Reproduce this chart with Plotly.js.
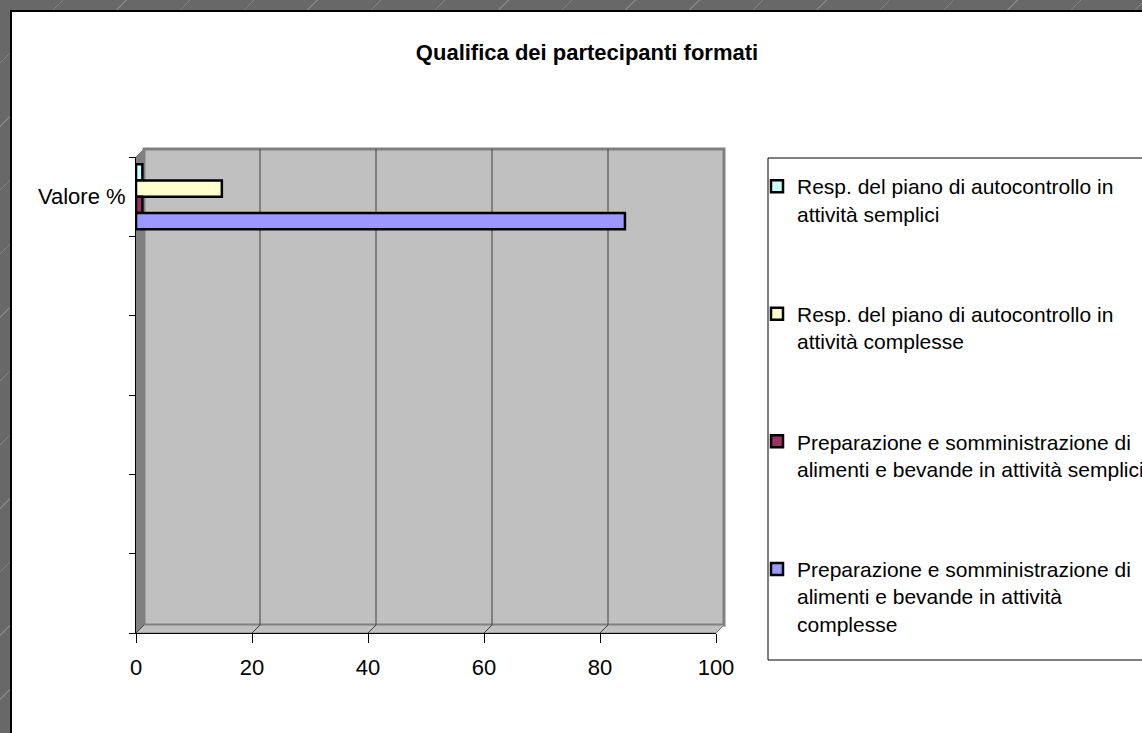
<!DOCTYPE html>
<html>
<head>
<meta charset="utf-8">
<script src="https://cdn.plot.ly/plotly-3.0.1.min.js"></script>
<style>
  html, body { margin:0; padding:0; width:1142px; height:733px; overflow:hidden; }
  body { background: repeating-linear-gradient(135deg, #686868 0px, #686868 44px, #858585 44px, #858585 45px); position:relative; }
  #frame { position:absolute; left:10px; top:10px; width:1132px; height:723px; background:#fff; border-left:2px solid #000; border-top:2px solid #000; box-sizing:border-box; }
  #chart { position:absolute; left:0; top:0; width:1142px; height:733px; }
</style>
</head>
<body>
<div id="frame"></div>
<div id="chart"></div>
<script>
// ---- data ----
const categories = ['Valore %'];
const seriesNames = [
  'Resp. del piano di autocontrollo in<br>attività semplici',
  'Resp. del piano di autocontrollo in<br>attività complesse',
  'Preparazione e somministrazione di<br>alimenti e bevande in attività semplici',
  'Preparazione e somministrazione di<br>alimenti e bevande in attività<br>complesse'
];
const seriesValues = [1.1, 14.8, 1.1, 84.3];
const seriesColors = ['#ccffff', '#ffffcc', '#993366', '#9999ff'];
const xTicks = [0, 20, 40, 60, 80, 100];
const yBoundaries = [-0.5, 0.5, 1.5, 2.5, 3.5, 4.5, 5.5];

const FONT = "'Liberation Sans', Arial, sans-serif";

// ---- geometry ----
const W = 1142, H = 733;
const mL = 136, mR = 426, mT = 157, mB = 100;
const pw = W - mL - mR, ph = H - mT - mB;
const D = 8; // 3D depth offset in px

const traces = seriesValues.map((v, i) => ({
  type: 'bar',
  orientation: 'h',
  name: seriesNames[i],
  legendgroup: 'g' + i,
  x: [v],
  y: categories.map((c, k) => k),
  marker: { color: seriesColors[i], line: { color: '#000', width: 2.5 } },
  hoverinfo: 'x'
}));

const shapes = [];
// back wall
shapes.push({ type:'rect', layer:'below', xref:'paper', yref:'paper',
  xsizemode:'pixel', ysizemode:'pixel', xanchor:0, yanchor:0,
  x0:D, x1:pw + D, y0:D, y1:ph + D,
  fillcolor:'#c0c0c0', line:{ color:'#808080', width:3 } });
// left wall
shapes.push({ type:'path', layer:'below', xref:'paper', yref:'paper',
  xsizemode:'pixel', ysizemode:'pixel', xanchor:0, yanchor:0,
  path:`M0,0 L0,${ph} L${D},${ph + D} L${D},${D} Z`,
  fillcolor:'#808080', line:{ color:'#808080', width:1 } });
// floor
shapes.push({ type:'path', layer:'below', xref:'paper', yref:'paper',
  xsizemode:'pixel', ysizemode:'pixel', xanchor:0, yanchor:0,
  path:`M0,0 L${pw},0 L${pw + D},${D} L${D},${D} Z`,
  fillcolor:'#c0c0c0', line:{ color:'#808080', width:1 } });
// gridlines on back wall + floor diagonals
xTicks.forEach(t => {
  shapes.push({ type:'path', layer:'below', xref:'x', yref:'paper',
    xsizemode:'pixel', ysizemode:'pixel', xanchor:t, yanchor:0,
    path: t === 0 ? `M0,0 L${D},${D}` : `M0,0 L${D},${D} L${D},${ph + D}`,
    line:{ color:'#404040', width:1 } });
});
// legend border
shapes.push({ type:'rect', layer:'above', xref:'paper', yref:'paper',
  x0:(768 - mL) / pw, x1:(1200 - mL) / pw,
  y0:(H - mB - 660) / ph, y1:(H - mB - 158) / ph,
  line:{ color:'#000', width:1 }, fillcolor:'rgba(0,0,0,0)' });

const layout = {
  width: W, height: H,
  paper_bgcolor: 'rgba(0,0,0,0)',
  plot_bgcolor: 'rgba(0,0,0,0)',
  margin: { l: mL, r: mR, t: mT, b: mB, autoexpand: false },
  font: { family: FONT, size: 21, color: '#000' },
  title: { text: '<b>Qualifica dei partecipanti formati</b>',
    font: { family: FONT, size: 22, color: '#000' },
    xref: 'container', yref: 'container', x: 587 / W, y: 1 - 52 / H,
    xanchor: 'center', yanchor: 'middle' },
  barmode: 'group',
  bargap: 0.18,
  bargroupgap: 0,
  showlegend: true,
  legend: {
    x: (757 - mL) / pw, xanchor: 'left',
    y: (H - mB - 166) / ph, yanchor: 'top',
    bgcolor: 'rgba(0,0,0,0)', borderwidth: 0,
    font: { family: FONT, size: 21, color: '#000' },
    traceorder: 'grouped', tracegroupgap: 70, valign: 'top',
    maxheight: 700
  },
  xaxis: {
    range: [0, 100], tickvals: xTicks, ticks: 'outside', ticklen: 9,
    tickcolor: '#000', showline: true, linecolor: '#000', linewidth: 1,
    showgrid: false, zeroline: false, fixedrange: true,
    ticklabelstandoff: 6,
    tickfont: { family: FONT, size: 22 }
  },
  yaxis: {
    range: [5.5, -0.5], tickmode: 'array',
    tickvals: categories.map((c, k) => k), ticktext: categories,
    ticks: '', showline: true, linecolor: '#000', linewidth: 1,
    showgrid: false, zeroline: false, fixedrange: true,
    ticklabelstandoff: 5,
    tickfont: { family: FONT, size: 22 },
    minor: { tickmode: 'array', tickvals: yBoundaries, ticks: 'outside', ticklen: 6, tickcolor: '#000', showgrid: false }
  },
  shapes: shapes
};

Plotly.newPlot('chart', traces, layout, { displayModeBar: false, staticPlot: true });
</script>
</body>
</html>
